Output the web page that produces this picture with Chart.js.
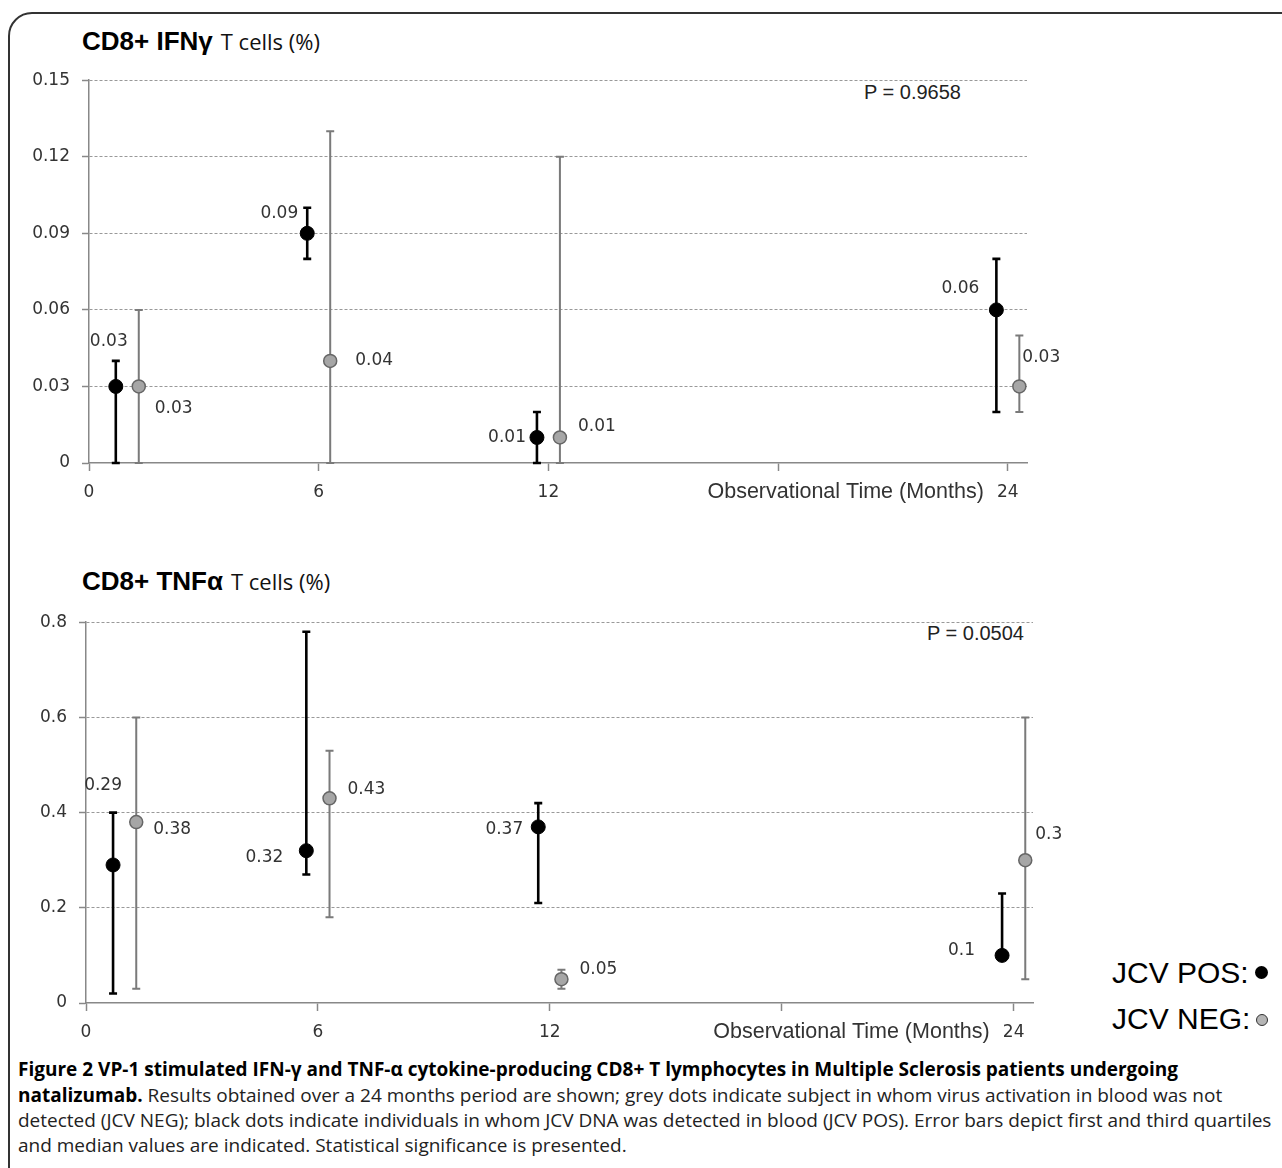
<!DOCTYPE html>
<html>
<head>
<meta charset="utf-8">
<script src="https://cdn.jsdelivr.net/npm/chart.js@4.4.1/dist/chart.umd.min.js"></script>
<style>
  body { margin: 0; width: 1282px; height: 1168px; background: #fff; position: relative; overflow: hidden; font-family: "Liberation Sans", Arial, sans-serif; }
  .frame { position: absolute; left: 8px; top: 12px; width: 1320px; height: 1240px; border: 2px solid #333; border-radius: 24px; }
  .abs { position: absolute; white-space: nowrap; line-height: 1; }
  .ttl b { font-weight: bold; font-size: 26px; color: #000; }
  .ttl span { font-family: "Open Sans", sans-serif; font-size: 22px; color: #111; margin-left: 8px; }
  .pval { font-size: 20px; color: #222; }
  .legend { font-size: 30px; color: #000; left: 1112px; }
  .dotpos { display: inline-block; width: 13px; height: 13px; border-radius: 50%; background: #000; margin-left: 6px; vertical-align: 4px; }
  .dotneg { display: inline-block; width: 10px; height: 10px; border-radius: 50%; background: #b5b5b5; border: 1.5px solid #333; margin-left: 6px; vertical-align: 3px; }
  .cap { position: absolute; left: 18px; white-space: nowrap; font-family: "Open Sans", sans-serif; font-size: 19px; color: #222; line-height: 1; }
  canvas { position: absolute; left: 0; }
</style>
</head>
<body>
<div class="frame"></div>

<div class="abs ttl" style="left:82px; top:28px;"><b>CD8+ IFNγ</b><span>T cells (%)</span></div>
<div class="abs pval" style="left:864px; top:82px;">P = 0.9658</div>
<canvas id="ifnChart" width="1090" height="455" style="top:58px;"></canvas>

<div class="abs ttl" style="left:82px; top:568px;"><b>CD8+ TNFα</b><span>T cells (%)</span></div>
<div class="abs pval" style="left:927px; top:623px;">P = 0.0504</div>
<canvas id="tnfChart" width="1090" height="453" style="top:600px;"></canvas>

<div class="abs legend" style="top:958px;">JCV POS:<span class="dotpos"></span></div>
<div class="abs legend" style="top:1004px;">JCV NEG:<span class="dotneg"></span></div>

<div class="cap" style="top:1060px; font-weight:bold; color:#000;">Figure 2 VP-1 stimulated IFN-γ and TNF-α cytokine-producing CD8+ T lymphocytes in Multiple Sclerosis patients undergoing</div>
<div class="cap" style="top:1086px;"><b style="color:#000;">natalizumab.</b> Results obtained over a 24 months period are shown; grey dots indicate subject in whom virus activation in blood was not</div>
<div class="cap" style="top:1111px;">detected (JCV NEG); black dots indicate individuals in whom JCV DNA was detected in blood (JCV POS). Error bars depict first and third quartiles</div>
<div class="cap" style="top:1136px;">and median values are indicated. Statistical significance is presented.</div>

<script>
// time points (months) and axis ticks
const timePoints = [1, 6, 12, 24];
const xTickMax = 24.5;
const xTickStep = 6;

// CD8+ IFNγ: medians and quartiles
const ifnPosMedian = [0.03, 0.09, 0.01, 0.06];
const ifnPosQ1     = [0, 0.08, 0, 0.02];
const ifnPosQ3     = [0.04, 0.10, 0.02, 0.08];
const ifnNegMedian = [0.03, 0.04, 0.01, 0.03];
const ifnNegQ1     = [0, 0, 0, 0.02];
const ifnNegQ3     = [0.06, 0.13, 0.12, 0.05];
const ifnYMax = 0.15, ifnYStep = 0.03;

// CD8+ TNFα: medians and quartiles
const tnfPosMedian = [0.29, 0.32, 0.37, 0.1];
const tnfPosQ1     = [0.02, 0.27, 0.21, 0.1];
const tnfPosQ3     = [0.40, 0.78, 0.42, 0.23];
const tnfNegMedian = [0.38, 0.43, 0.05, 0.3];
const tnfNegQ1     = [0.03, 0.18, 0.03, 0.05];
const tnfNegQ3     = [0.60, 0.53, 0.07, 0.60];
const tnfYMax = 0.8, tnfYStep = 0.2;

// side-by-side dodge of the two groups (months)
const DODGE = 0.3;

// label placement relative to the point: [dx, dy, textAlign]
const ifnPosLabelPos = [[-7, -45, 'center'], [-9, -20, 'right'], [-11, 0, 'right'], [-17, -21, 'right']];
const ifnNegLabelPos = [[16, 22, 'left'], [25, 0, 'left'], [18, -11, 'left'], [3, -29, 'left']];
const tnfPosLabelPos = [[-10, -79, 'center'], [-23, 7, 'right'], [-15, 3, 'right'], [-27, -5, 'right']];
const tnfNegLabelPos = [[17, 7, 'left'], [18, -9, 'left'], [18, -10, 'left'], [10, -26, 'left']];

const errorBars = {
  id: 'errorBars',
  beforeDatasetsDraw(chart) {
    const { ctx, scales: { x, y } } = chart;
    chart.data.datasets.forEach(ds => {
      ctx.save();
      ctx.strokeStyle = ds.barColor;
      ctx.lineWidth = ds.barWidth;
      ds.data.forEach((p, i) => {
        const px = x.getPixelForValue(p.x);
        const lo = y.getPixelForValue(ds.q1[i]);
        const hi = y.getPixelForValue(ds.q3[i]);
        ctx.beginPath();
        ctx.moveTo(px, lo); ctx.lineTo(px, hi);
        ctx.moveTo(px - 4, lo); ctx.lineTo(px + 4, lo);
        ctx.moveTo(px - 4, hi); ctx.lineTo(px + 4, hi);
        ctx.stroke();
      });
      ctx.restore();
    });
  },
  afterDatasetsDraw(chart) {
    const { ctx, scales: { x, y } } = chart;
    ctx.save();
    ctx.font = '17px "DejaVu Sans"';
    ctx.fillStyle = '#333';
    ctx.textBaseline = 'middle';
    chart.data.datasets.forEach(ds => {
      ds.data.forEach((p, i) => {
        const [dx, dy, align] = ds.labelPos[i];
        ctx.textAlign = align;
        ctx.fillText(String(p.y), x.getPixelForValue(p.x) + dx, y.getPixelForValue(p.y) + dy);
      });
    });
    // axis caption next to the last tick
    ctx.font = '21.5px "Liberation Sans"';
    ctx.fillStyle = '#333';
    ctx.textAlign = 'right';
    ctx.fillText('Observational Time (Months)', x.getPixelForValue(24) - 24, x.top + 29);
    ctx.restore();
  }
};

function points(values, offset) {
  return values.map((v, i) => ({ x: timePoints[i] + offset, y: v }));
}

function makeChart(id, d, yMax, yStep, yAxisW, padTop, padRight) {
  return new Chart(document.getElementById(id), {
    type: 'scatter',
    data: {
      datasets: [
        { label: 'JCV POS', data: points(d.posMed, -DODGE), q1: d.posQ1, q3: d.posQ3, labelPos: d.posLab,
          barColor: '#000', barWidth: 2.6, pointRadius: 7, backgroundColor: '#000', borderColor: '#000', borderWidth: 1, clip: false },
        { label: 'JCV NEG', data: points(d.negMed, DODGE), q1: d.negQ1, q3: d.negQ3, labelPos: d.negLab,
          barColor: '#7a7a7a', barWidth: 2, pointRadius: 6.5, backgroundColor: '#a6a6a6', borderColor: '#666', borderWidth: 1.5, clip: false }
      ]
    },
    options: {
      responsive: false,
      animation: false,
      layout: { padding: { top: padTop, right: padRight, left: 0, bottom: 0 } },
      plugins: { legend: { display: false }, tooltip: { enabled: false } },
      scales: {
        x: {
          type: 'linear', min: 0, max: xTickMax,
          afterFit: s => { s.height = 50; },
          ticks: { stepSize: xTickStep, includeBounds: false, autoSkip: false, maxRotation: 0, padding: 11,
                   color: '#333', font: { family: 'DejaVu Sans', size: 17 },
                   callback: v => (v === 18 ? '' : v) },
          grid: { drawOnChartArea: false, drawTicks: true, tickLength: 8, tickColor: '#888', tickWidth: 1.5 },
          border: { color: '#888', width: 1.5 }
        },
        y: {
          min: 0, max: yMax,
          afterFit: s => { s.width = yAxisW; },
          ticks: { stepSize: yStep, padding: 12, color: '#333', font: { family: 'DejaVu Sans', size: 17 },
                   callback: v => String(Number(v.toFixed(2))) },
          grid: { color: c => (c.tick && c.tick.value === 0 ? 'rgba(0,0,0,0)' : '#999'), lineWidth: 1,
                  tickLength: 7, tickColor: '#888', tickWidth: 1.5 },
          border: { color: '#888', width: 1.5, dash: [3, 2] }
        }
      }
    },
    plugins: [errorBars]
  });
}

makeChart('ifnChart', {
  posMed: ifnPosMedian, posQ1: ifnPosQ1, posQ3: ifnPosQ3, posLab: ifnPosLabelPos,
  negMed: ifnNegMedian, negQ1: ifnNegQ1, negQ3: ifnNegQ3, negLab: ifnNegLabelPos
}, ifnYMax, ifnYStep, 89, 13, 63);

makeChart('tnfChart', {
  posMed: tnfPosMedian, posQ1: tnfPosQ1, posQ3: tnfPosQ3, posLab: tnfPosLabelPos,
  negMed: tnfNegMedian, negQ1: tnfNegQ1, negQ3: tnfNegQ3, negLab: tnfNegLabelPos
}, tnfYMax, tnfYStep, 86, 13, 57);
</script>
</body>
</html>
